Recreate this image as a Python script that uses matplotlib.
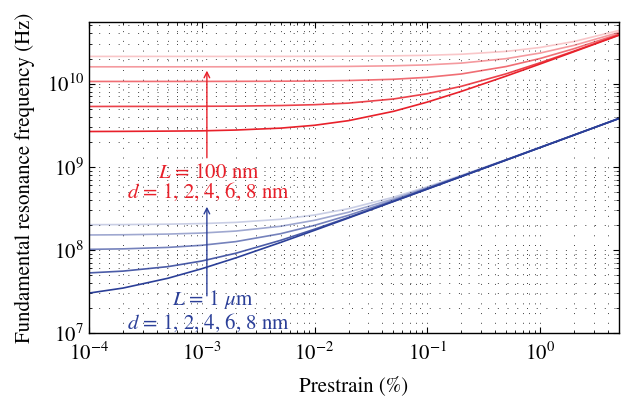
import matplotlib.pyplot as plt
import numpy as np

# prestrain (%) sample points
prestrain = [1e-4, 2e-4, 5e-4, 1e-3, 2e-3, 5e-3, 1e-2, 2e-2, 5e-2, 0.1, 0.2, 0.5, 1, 2, 5]

# L = 100 nm, d = 1, 2, 4, 6, 8 nm  (Hz)
red_d1 = [2.65e9, 2.66e9, 2.68e9, 2.70e9, 2.76e9, 2.91e9, 3.15e9, 3.58e9, 4.63e9, 5.99e9, 8.05e9, 1.23e10, 1.72e10, 2.42e10, 3.81e10]
red_d2 = [5.30e9, 5.31e9, 5.31e9, 5.33e9, 5.35e9, 5.44e9, 5.57e9, 5.82e9, 6.52e9, 7.55e9, 9.27e9, 1.31e10, 1.78e10, 2.46e10, 3.84e10]
red_d4 = [1.06e10, 1.06e10, 1.061e10, 1.061e10, 1.063e10, 1.067e10, 1.074e10, 1.087e10, 1.126e10, 1.189e10, 1.304e10, 1.603e10, 2.003e10, 2.628e10, 3.946e10]
red_d6 = [1.59e10, 1.59e10, 1.59e10, 1.59e10, 1.591e10, 1.594e10, 1.599e10, 1.608e10, 1.635e10, 1.678e10, 1.762e10, 1.993e10, 2.328e10, 2.882e10, 4.12e10]
red_d8 = [2.12e10, 2.12e10, 2.12e10, 2.12e10, 2.121e10, 2.123e10, 2.127e10, 2.134e10, 2.154e10, 2.187e10, 2.252e10, 2.437e10, 2.717e10, 3.205e10, 4.352e10]

# L = 1 um, d = 1, 2, 4, 6, 8 nm  (Hz)
blue_d1 = [3.02e7, 3.47e7, 4.55e7, 5.93e7, 8.00e7, 1.228e8, 1.718e8, 2.417e8, 3.809e8, 5.38e8, 7.607e8, 1.202e9, 1.70e9, 2.404e9, 3.801e9]
blue_d2 = [5.28e7, 5.55e7, 6.28e7, 7.34e7, 9.10e7, 1.302e8, 1.772e8, 2.456e8, 3.834e8, 5.399e8, 7.62e8, 1.203e9, 1.701e9, 2.405e9, 3.801e9]
blue_d4 = [1.014e8, 1.028e8, 1.070e8, 1.135e8, 1.256e8, 1.564e8, 1.972e8, 2.604e8, 3.931e8, 5.468e8, 7.669e8, 1.206e9, 1.703e9, 2.406e9, 3.802e9]
blue_d6 = [1.51e8, 1.519e8, 1.548e8, 1.593e8, 1.682e8, 1.922e8, 2.267e8, 2.834e8, 4.087e8, 5.581e8, 7.75e8, 1.211e9, 1.707e9, 2.409e9, 3.804e9]
blue_d8 = [2.007e8, 2.014e8, 2.036e8, 2.071e8, 2.14e8, 2.333e8, 2.625e8, 3.127e8, 4.295e8, 5.736e8, 7.862e8, 1.219e9, 1.712e9, 2.412e9, 3.806e9]

red_curves = [red_d1, red_d2, red_d4, red_d6, red_d8]
blue_curves = [blue_d1, blue_d2, blue_d4, blue_d6, blue_d8]
alphas = [1.0, 0.85, 0.65, 0.45, 0.25]

red = '#e8202a'
blue = '#2b3f98'

plt.rcParams['font.family'] = ['STIXGeneral', 'DejaVu Serif']
plt.rcParams['mathtext.fontset'] = 'stix'

fig = plt.figure(figsize=(6.32, 3.97), dpi=100)
ax = fig.add_axes([0.1408, 0.1612, 0.8386, 0.7834])

for ys, a in zip(red_curves, alphas):
    ax.plot(prestrain, ys, color=red, alpha=a, lw=1.2)
for ys, a in zip(blue_curves, alphas):
    ax.plot(prestrain, ys, color=blue, alpha=a, lw=1.2)

ax.set_xscale('log')
ax.set_yscale('log')
ax.set_xlim(1e-4, 5)
ax.set_ylim(1e7, 5.5e10)

ax.grid(which='both', linestyle=(0, (1, 9)), color='0.25', linewidth=0.7)
ax.tick_params(which='both', direction='in', top=True, right=True, labelsize=15)
ax.tick_params(axis='x', which='major', pad=7)
ax.tick_params(which='major', length=4)
ax.tick_params(which='minor', length=2)
for s in ax.spines.values():
    s.set_linewidth(1.0)

# arrows + labels
ax.annotate('', xy=(1.11e-3, 1.43e10), xytext=(1.11e-3, 1.28e9),
            arrowprops=dict(arrowstyle='->', color=red, lw=1.0, shrinkA=0, shrinkB=0))
ax.annotate('', xy=(1.11e-3, 3.3e8), xytext=(1.11e-3, 2.8e7),
            arrowprops=dict(arrowstyle='->', color=blue, lw=1.0, shrinkA=0, shrinkB=0))

ax.text(1.15e-3, 8.3e8, r'$L$ = 100 nm', color=red, fontsize=15, ha='center', va='center')
ax.text(1.15e-3, 4.9e8, r'$d$ = 1, 2, 4, 6, 8 nm', color=red, fontsize=15, ha='center', va='center')
ax.text(1.25e-3, 2.55e7, r'$L$ = 1 $\mu$m', color=blue, fontsize=15, ha='center', va='center')
ax.text(1.15e-3, 1.33e7, r'$d$ = 1, 2, 4, 6, 8 nm', color=blue, fontsize=15, ha='center', va='center')

ax.set_xlabel('Prestrain (%)', fontsize=15, labelpad=8)
ax.set_ylabel('Fundamental resonance frequency (Hz)', fontsize=15, labelpad=8)

fig.savefig('out.png', dpi=100)
